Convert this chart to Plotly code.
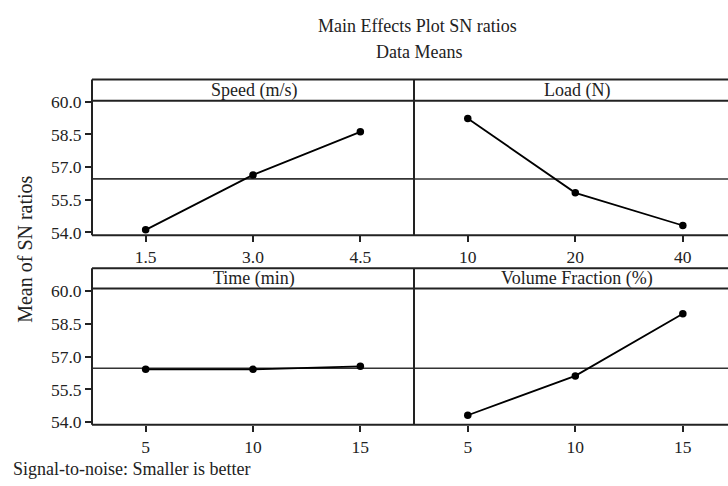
import plotly.graph_objects as go

# ---- data ----
speed_levels = ["1.5", "3.0", "4.5"]
speed_sn = [54.12, 56.64, 58.62]
load_levels = ["10", "20", "40"]
load_sn = [59.23, 55.82, 54.32]
time_levels = ["5", "10", "15"]
time_sn = [56.42, 56.42, 56.56]
vf_levels = ["5", "10", "15"]
vf_sn = [54.32, 56.12, 58.96]
panel_titles = ["Speed (m/s)", "Load (N)", "Time (min)", "Volume Fraction (%)"]
y_ticks = [54.0, 55.5, 57.0, 58.5, 60.0]

W, H = 728, 486
FONT = "Liberation Serif, Times New Roman, serif"
LC = "#222222"

def px(x):
    return x / W

def py(y):
    return (H - y) / H

# panel geometry (pixels)
xl0, xmid, xr1 = 92, 414, 728
rows = [
    dict(box_top=73, strip_bot=95, data_bot=234, yr=[53.87, 60.04]),
    dict(box_top=268, strip_bot=289, data_bot=430, yr=[53.88, 60.12]),
]
cols = [
    dict(x0=xl0, x1=xmid, xr=[-0.5, 2.5], title_x=254),
    dict(x0=xmid, x1=xr1, xr=[-0.5, 2.42], title_x=577),
]

series = [(speed_levels, speed_sn), (load_levels, load_sn),
          (time_levels, time_sn), (vf_levels, vf_sn)]

fig = go.Figure()
layout = dict(
    width=W, height=H,
    margin=dict(l=0, r=0, t=0, b=0),
    paper_bgcolor="white", plot_bgcolor="white",
    showlegend=False,
    font=dict(family=FONT, size=17.5, color=LC),
)
shapes = []
annotations = []

for i, (levels, vals) in enumerate(series):
    r, c = divmod(i, 2)
    R, C = rows[r], cols[c]
    n = i + 1
    xa = "xaxis" if n == 1 else f"xaxis{n}"
    ya = "yaxis" if n == 1 else f"yaxis{n}"
    xr = "x" if n == 1 else f"x{n}"
    yr = "y" if n == 1 else f"y{n}"
    layout[xa] = dict(
        domain=[px(C["x0"]), px(C["x1"])], anchor=yr, type="category",
        categoryorder="array", categoryarray=levels,
        range=C["xr"], showgrid=False, zeroline=False, showline=False,
        ticks="outside", ticklen=6, tickwidth=1.5, tickcolor=LC,
        tickfont=dict(family=FONT, size=17.5, color=LC), fixedrange=True,
    )
    layout[ya] = dict(
        domain=[py(R["data_bot"]), py(R["strip_bot"])], anchor=xr,
        range=R["yr"], showgrid=False, zeroline=False, showline=False,
        tickvals=y_ticks, ticktext=[f"{v:.1f}" for v in y_ticks],
        ticks="outside" if c == 0 else "", ticklen=6, tickwidth=1.5, tickcolor=LC,
        showticklabels=(c == 0),
        tickfont=dict(family=FONT, size=17.5, color=LC), fixedrange=True,
    )
    # overall mean reference line
    mean_val = sum(vals) / len(vals)
    shapes.append(dict(type="line", xref=f"{xr} domain", yref=yr,
                       x0=0, x1=1, y0=mean_val, y1=mean_val,
                       line=dict(color="#333333", width=1.6), layer="below"))
    fig.add_trace(go.Scatter(
        x=levels, y=vals, xaxis=xr, yaxis=yr, mode="lines+markers",
        line=dict(color="black", width=1.8),
        marker=dict(color="black", size=7.5), hoverinfo="skip",
    ))
    # panel box lines
    X0, X1 = px(C["x0"]), px(C["x1"])
    T, S, B = py(R["box_top"]), py(R["strip_bot"]), py(R["data_bot"])
    lines = [(X0, T, X1, T), (X0, S, X1, S), (X0, B, X1, B), (X0, T, X0, B)]
    if c == 0:
        lines.append((X1, T, X1, B))
    for (a, b, cc, d) in lines:
        shapes.append(dict(type="line", xref="paper", yref="paper",
                           x0=a, y0=b, x1=cc, y1=d,
                           line=dict(color=LC, width=2)))
    # strip title
    annotations.append(dict(
        text=panel_titles[i], xref="paper", yref="paper",
        x=px(C["title_x"]), y=(T + S) / 2, xanchor="center", yanchor="middle",
        showarrow=False, font=dict(family=FONT, size=18, color=LC),
    ))

annotations += [
    dict(text="Main Effects Plot SN ratios", xref="paper", yref="paper",
         x=px(417), y=py(18), xanchor="center", yanchor="middle",
         showarrow=False, font=dict(family=FONT, size=18, color=LC)),
    dict(text="Data Means", xref="paper", yref="paper",
         x=px(419), y=py(44), xanchor="center", yanchor="middle",
         showarrow=False, font=dict(family=FONT, size=18, color=LC)),
    dict(text="Mean of SN ratios", xref="paper", yref="paper",
         x=px(25), y=py(249), xanchor="center", yanchor="middle",
         textangle=-90, showarrow=False,
         font=dict(family=FONT, size=20, color=LC)),
    dict(text="Signal-to-noise: Smaller is better", xref="paper", yref="paper",
         x=px(11), y=py(476), xanchor="left", yanchor="middle",
         showarrow=False, font=dict(family=FONT, size=18, color=LC)),
]

layout["shapes"] = shapes
layout["annotations"] = annotations
fig.update_layout(**layout)
fig.write_html("out.html")
